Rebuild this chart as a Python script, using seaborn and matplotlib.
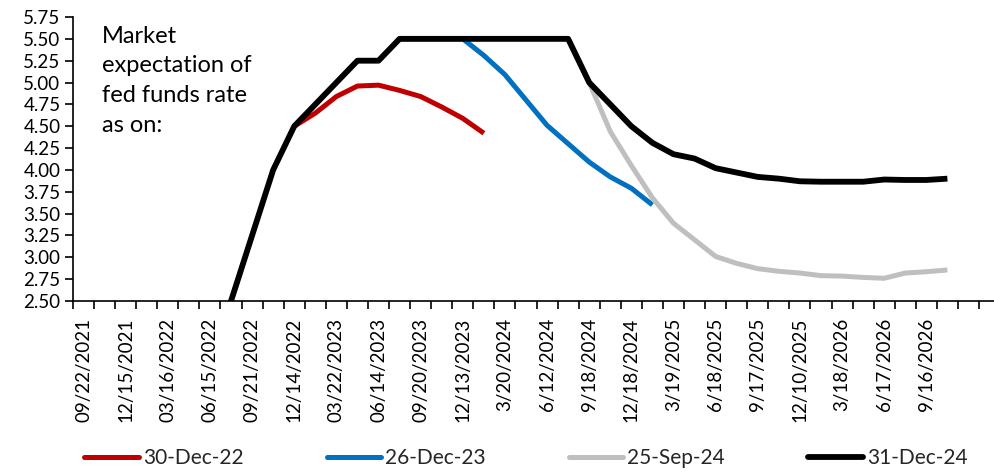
import matplotlib
matplotlib.use("Agg")
import matplotlib.pyplot as plt
from matplotlib.lines import Line2D
from matplotlib.ticker import FixedLocator, FormatStrFormatter
import seaborn as sns
import pandas as pd

# FOMC meeting dates used as the category axis
dates = [
    "09/22/2021", "11/03/2021", "12/15/2021", "01/26/2022", "03/16/2022", "05/04/2022",
    "06/15/2022", "07/27/2022", "09/21/2022", "11/02/2022", "12/14/2022", "02/01/2023",
    "03/22/2023", "05/03/2023", "06/14/2023", "07/26/2023", "09/20/2023", "11/01/2023",
    "12/13/2023", "1/31/2024", "3/20/2024", "5/1/2024", "6/12/2024", "7/31/2024",
    "9/18/2024", "11/7/2024", "12/18/2024", "1/29/2025", "3/19/2025", "5/7/2025",
    "6/18/2025", "7/30/2025", "9/17/2025", "10/29/2025", "12/10/2025", "1/28/2026",
    "3/18/2026", "4/29/2026", "6/17/2026", "7/29/2026", "9/16/2026", "10/28/2026",
]

# market expectation curves (upper bound, %), each starting at a given meeting index
start_dec22 = 10
rate_dec22 = [4.50, 4.65, 4.84, 4.96, 4.97, 4.91, 4.84, 4.72, 4.59, 4.42]

start_dec23 = 15
rate_dec23 = [5.50, 5.50, 5.50, 5.50, 5.31, 5.09, 4.80, 4.51, 4.30, 4.09, 3.92, 3.79, 3.60]

start_sep24 = 15
rate_sep24 = [5.50, 5.50, 5.50, 5.50, 5.50, 5.50, 5.50, 5.50, 5.50, 5.00, 4.44, 4.05,
              3.68, 3.39, 3.20, 3.01, 2.93, 2.87, 2.84, 2.82, 2.79, 2.785, 2.77, 2.76,
              2.82, 2.835, 2.855]

start_dec24 = 6
rate_dec24 = [1.75, 2.50, 3.25, 4.00, 4.50, 4.75, 5.00, 5.25, 5.25, 5.50, 5.50, 5.50,
              5.50, 5.50, 5.50, 5.50, 5.50, 5.50, 5.00, 4.75, 4.50, 4.31, 4.18, 4.13,
              4.02, 3.97, 3.92, 3.90, 3.87, 3.865, 3.865, 3.865, 3.89, 3.885, 3.885, 3.90]

series = [
    ("30-Dec-22", start_dec22, rate_dec22, "#C00000", 3.6),
    ("26-Dec-23", start_dec23, rate_dec23, "#0070C0", 3.6),
    ("25-Sep-24", start_sep24, rate_sep24, "#BFBFBF", 3.6),
    ("31-Dec-24", start_dec24, rate_dec24, "#000000", 4.2),
]

sns.set_style("white")
plt.rcParams["font.family"] = ["Lato", "DejaVu Sans"]

fig = plt.figure(figsize=(9.95, 4.74), dpi=100)
ax = fig.add_axes([73 / 995, 1 - 301 / 474, 1 - 73 / 995, (301 - 17) / 474])

for name, start, vals, color, lw in series:
    d = pd.DataFrame({"idx": range(start, start + len(vals)), "rate": vals})
    sns.lineplot(data=d, x="idx", y="rate", ax=ax, color=color, linewidth=lw,
                 solid_capstyle="butt", solid_joinstyle="round", legend=False)

n_cat = 43
ax.set_xlim(-0.5, -0.5 + (995 - 73) / 21.07)
ax.set_ylim(2.5, 5.75)
ax.set_yticks([2.5 + 0.25 * k for k in range(14)])
ax.yaxis.set_major_formatter(FormatStrFormatter("%.2f"))

label_idx = list(range(0, len(dates) - 1, 2))
ax.set_xticks(label_idx)
ax.set_xticklabels([dates[i] for i in label_idx], rotation=90)
ax.xaxis.set_minor_locator(FixedLocator([i - 0.5 for i in range(n_cat + 1)]))
ax.tick_params(axis="x", which="major", length=0, pad=12, labelsize=13.5, colors="black")
ax.tick_params(axis="x", which="minor", length=6, width=1.2, direction="out", color="black")
ax.tick_params(axis="y", length=6, width=1.2, direction="out", labelsize=13.5, pad=3,
               colors="black")
ax.xaxis.set_ticks_position("bottom")
ax.yaxis.set_ticks_position("left")

for s in ["top", "right"]:
    ax.spines[s].set_visible(False)
for s in ["left", "bottom"]:
    ax.spines[s].set_color("black")
    ax.spines[s].set_linewidth(1.2)
ax.set_xlabel("")
ax.set_ylabel("")
ax.grid(False)

fig.text(102 / 995, 1 - 26 / 474, "Market\nexpectation of\nfed funds rate\nas on:",
         fontsize=17, va="top", ha="left", linespacing=1.5, color="black")

handles = [Line2D([0], [0], color=c, linewidth=lw, solid_capstyle="round")
           for _, _, _, c, lw in series]
fig.legend(handles, [s[0] for s in series], loc="center left", ncol=4,
           bbox_to_anchor=(76 / 995, 1 - 458 / 474), frameon=False, fontsize=15,
           handlelength=2.6, handletextpad=0.2, columnspacing=4.0, borderaxespad=0)

fig.savefig("out.png", dpi=100)
